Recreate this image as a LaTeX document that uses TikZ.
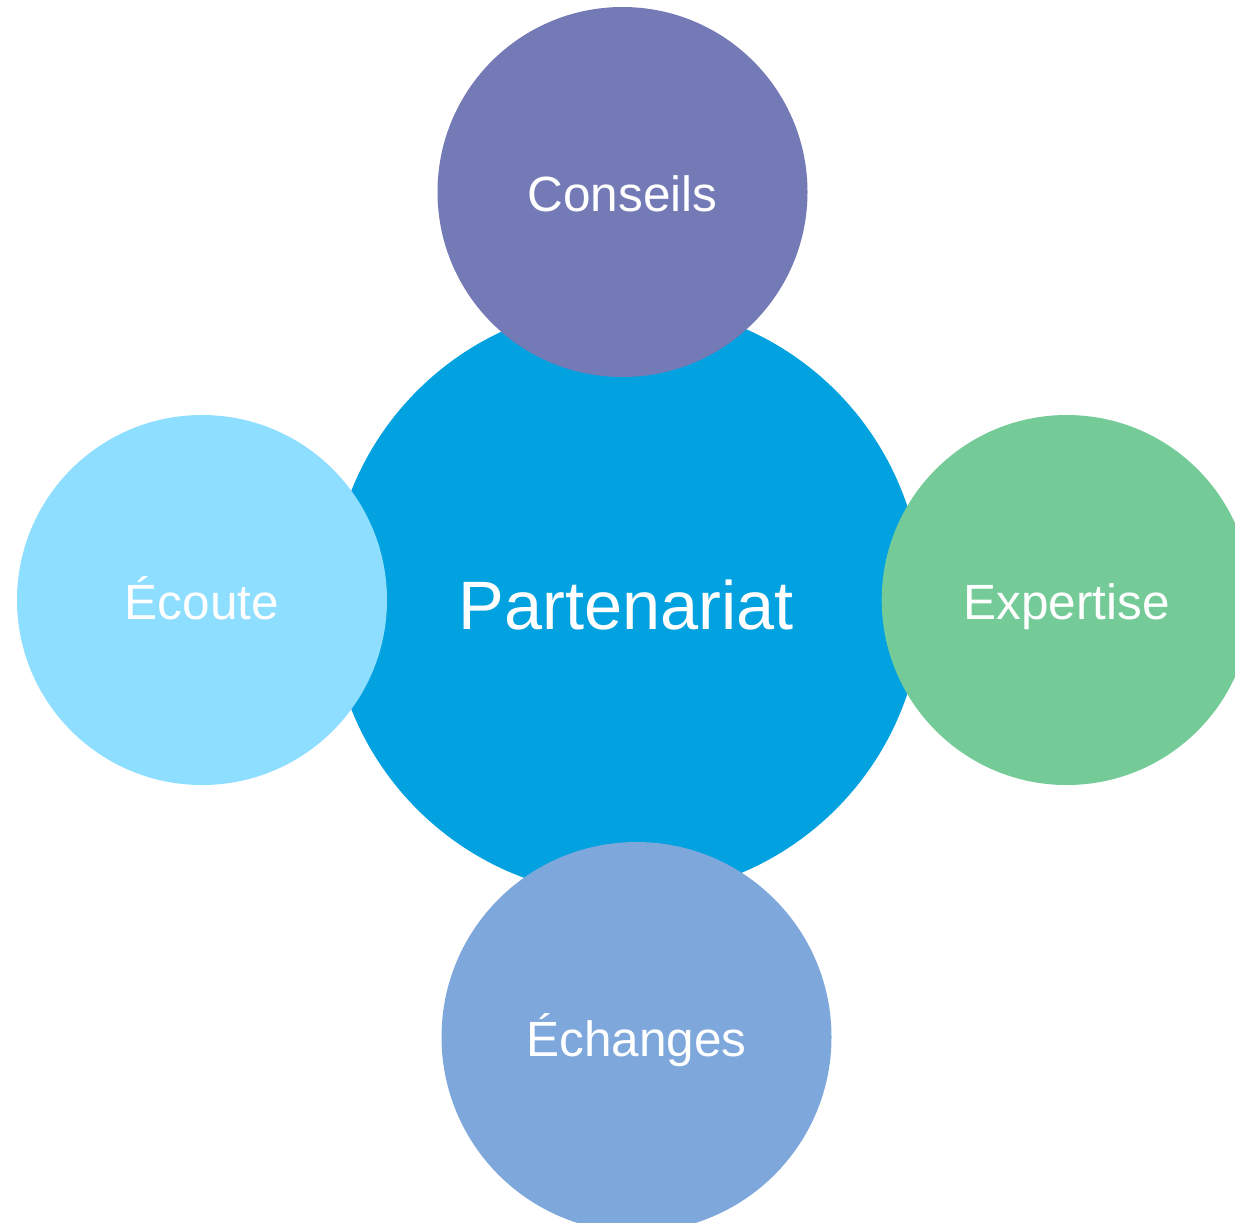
\documentclass[tikz,border=0pt]{standalone}
\usepackage{fontspec}
\setmainfont{Liberation Sans}
\usetikzlibrary{positioning}

\definecolor{hubblue}{RGB}{2,161,224}
\definecolor{conseilsviolet}{RGB}{116,122,182}
\definecolor{ecoutecyan}{RGB}{142,222,255}
\definecolor{expertisegreen}{RGB}{116,203,152}
\definecolor{echangesblue}{RGB}{126,167,220}

\tikzset{
	bubble/.style={circle, minimum size=185pt, inner sep=0pt, outer sep=0pt,
		text height=19.6pt, text depth=0pt,
		text=white, font=\fontsize{24.75pt}{30pt}\selectfont},
	hub/.style={bubble, minimum size=296pt, text height=29.5pt,
		font=\fontsize{34.25pt}{41pt}\selectfont}
}

\begin{document}
\begin{tikzpicture}[x=0.5pt,y=-0.5pt]
	\useasboundingbox (0,0) rectangle (1235,1222);
	\clip (0,0) rectangle (1235,1222);
	\node[hub, fill=hubblue] (P) at (626.5,600) {Partenariat};
	\node[bubble, fill=conseilsviolet, above=-36.5pt of P, xshift=-2pt] (C) {Conseils};
	\node[bubble, fill=ecoutecyan, left=-28.25pt of P] (Ec) {Écoute};
	\node[bubble, fill=expertisegreen, right=-20.4pt of P] (Ex) {Expertise};
	\node[bubble, fill=echangesblue, minimum size=195pt, below=-27pt of P, xshift=5pt] (Eh) {Échanges};
\end{tikzpicture}
\end{document}
